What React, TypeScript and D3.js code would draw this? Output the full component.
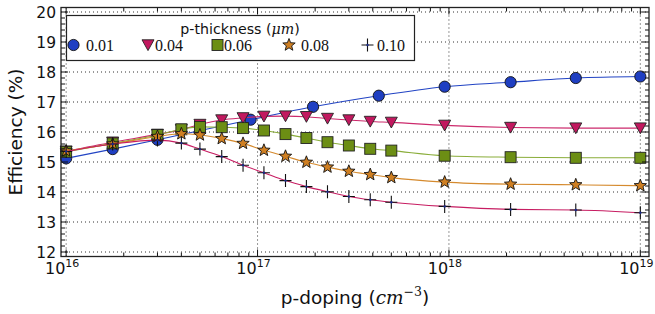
import * as d3 from 'd3';
import React, { useEffect, useRef } from 'react';

// p-doping values (cm^-3) where the thicker layers were simulated
const dopingFine = [1e16, 1.75e16, 3e16, 4e16, 5e16, 6.5e16, 8.4e16, 1.08e17, 1.4e17, 1.8e17,
    2.32e17, 3e17, 3.88e17, 5e17, 9.5e17, 2.1e18, 4.6e18, 1e19];
// the 0.01 um layer used a coarser grid
const dopingCoarse = [1e16, 1.75e16, 3e16, 9.2e16, 1.95e17, 4.3e17, 9.5e17, 2.1e18, 4.6e18, 1e19];

// efficiency (%) for each p-thickness
const eff001 = [15.12, 15.43, 15.74, 16.41, 16.84, 17.21, 17.51, 17.66, 17.80, 17.85];
const eff004 = [15.36, 15.66, 15.92, 16.08, 16.25, 16.40, 16.47, 16.52, 16.53, 16.51, 16.45, 16.40,
    16.35, 16.32, 16.22, 16.15, 16.13, 16.13];
const eff006 = [15.34, 15.62, 15.90, 16.09, 16.17, 16.16, 16.13, 16.05, 15.93, 15.80, 15.66, 15.55,
    15.44, 15.38, 15.21, 15.16, 15.14, 15.14];
const eff008 = [15.37, 15.60, 15.85, 15.94, 15.90, 15.78, 15.62, 15.39, 15.19, 14.99, 14.83, 14.69,
    14.58, 14.48, 14.33, 14.26, 14.24, 14.21];
const eff010 = [15.35, 15.60, 15.73, 15.63, 15.43, 15.18, 14.89, 14.64, 14.38, 14.18, 14.01, 13.85,
    13.74, 13.66, 13.52, 13.42, 13.40, 13.31];

const thicknessLabels = ['0.01', '0.04', '0.06', '0.08', '0.10'];
const yTicks = [12, 13, 14, 15, 16, 17, 18, 19, 20];
const xTicks = [1e16, 1e17, 1e18, 1e19];
const xTickExp = ['16', '17', '18', '19'];

const series = [
    { x: dopingCoarse, y: eff001, marker: 'circle', fill: '#1f3fc2', line: '#2244c4' },
    { x: dopingFine, y: eff004, marker: 'tri', fill: '#c2185f', line: '#cc2a6c' },
    { x: dopingFine, y: eff006, marker: 'square', fill: '#6c8e14', line: '#8aad3a' },
    { x: dopingFine, y: eff008, marker: 'star', fill: '#cf7f22', line: '#d58a2e' },
    { x: dopingFine, y: eff010, marker: 'plus', fill: '#111', line: '#c71d62' },
];

function starPath(ro: number, ri: number) {
    const pts: string[] = [];
    for (let i = 0; i < 10; i++) {
        const r = i % 2 === 0 ? ro : ri;
        const a = -Math.PI / 2 + (i * Math.PI) / 5;
        pts.push(`${(r * Math.cos(a)).toFixed(2)},${(r * Math.sin(a)).toFixed(2)}`);
    }
    return `M${pts.join('L')}Z`;
}

function drawMarker(g: any, kind: string, fill: string) {
    if (kind === 'circle') {
        g.append('circle').attr('r', 5.6).attr('fill', fill).attr('stroke', '#111').attr('stroke-width', 0.9);
    } else if (kind === 'tri') {
        g.append('path').attr('d', 'M-6,-5.2L6,-5.2L0,5.6Z').attr('fill', fill)
            .attr('stroke', '#222').attr('stroke-width', 0.9);
    } else if (kind === 'square') {
        g.append('rect').attr('x', -5.5).attr('y', -5.5).attr('width', 11).attr('height', 11)
            .attr('fill', fill).attr('stroke', '#222').attr('stroke-width', 0.9);
    } else if (kind === 'star') {
        g.append('path').attr('d', starPath(6.5, 2.8)).attr('fill', fill)
            .attr('stroke', '#111').attr('stroke-width', 0.9);
    } else {
        g.append('path').attr('d', 'M-6,0H6M0,-6.5V6.5').attr('stroke', '#111').attr('stroke-width', 1.1);
        g.append('circle').attr('r', 1.2).attr('fill', '#1a2a8a');
    }
}

function App() {
    const ref = useRef<SVGSVGElement>(null);

    useEffect(() => {
        const width = 655;
        const height = 314;
        const left = 61, right = 649, top = 7.5, bottom = 256.5;

        const svg = d3.select(ref.current);
        svg.selectAll('*').remove();
        svg.attr('width', width).attr('height', height).style('background', 'white');

        const x = d3.scaleLog().domain([9.4e15, 1.11e19]).range([left, right]);
        const y = d3.scaleLinear().domain([11.85, 20.15]).range([bottom, top]);

        // gridlines
        const grid = svg.append('g').attr('stroke', '#333').attr('stroke-width', 1)
            .attr('stroke-dasharray', '1,3');
        xTicks.forEach((t) => {
            grid.append('line').attr('x1', x(t)).attr('x2', x(t)).attr('y1', top).attr('y2', bottom);
        });
        yTicks.forEach((t) => {
            grid.append('line').attr('x1', left).attr('x2', right).attr('y1', y(t)).attr('y2', y(t));
        });

        // curves and markers
        const line = d3.line<number>().curve(d3.curveMonotoneX);
        series.forEach((s) => {
            const pts = s.x.map((xv, i) => [x(xv), y(s.y[i])] as [number, number]);
            svg.append('path').attr('d', (line as any)(pts)).attr('fill', 'none')
                .attr('stroke', s.line).attr('stroke-width', 1.1);
            pts.forEach((p) => {
                const g = svg.append('g').attr('transform', `translate(${p[0]},${p[1]})`);
                drawMarker(g, s.marker, s.fill);
            });
        });

        // ticks (inward, all four sides)
        const ticks = svg.append('g').attr('stroke', '#111').attr('stroke-width', 1);
        const minorX: number[] = [];
        [16, 17, 18].forEach((d) => {
            for (let k = 2; k <= 9; k++) minorX.push(k * 10 ** d);
        });
        xTicks.forEach((t) => {
            ticks.append('line').attr('x1', x(t)).attr('x2', x(t)).attr('y1', bottom).attr('y2', bottom - 7);
            ticks.append('line').attr('x1', x(t)).attr('x2', x(t)).attr('y1', top).attr('y2', top + 7);
        });
        minorX.forEach((t) => {
            ticks.append('line').attr('x1', x(t)).attr('x2', x(t)).attr('y1', bottom).attr('y2', bottom - 4);
            ticks.append('line').attr('x1', x(t)).attr('x2', x(t)).attr('y1', top).attr('y2', top + 4);
        });
        d3.range(11.8, 20.2, 0.2).forEach((t) => {
            const v = Math.round(t * 10) / 10;
            if (v < 11.85 || v > 20.15) return;
            const major = Math.abs(v - Math.round(v)) < 1e-6;
            const len = major ? 7 : 4;
            ticks.append('line').attr('x1', left).attr('x2', left + len).attr('y1', y(v)).attr('y2', y(v));
            ticks.append('line').attr('x1', right).attr('x2', right - len).attr('y1', y(v)).attr('y2', y(v));
        });

        // frame
        svg.append('rect').attr('x', left).attr('y', top).attr('width', right - left)
            .attr('height', bottom - top).attr('fill', 'none').attr('stroke', '#222').attr('stroke-width', 1.3);

        // tick labels
        const font = 'DejaVu Sans';
        yTicks.forEach((t) => {
            svg.append('text').attr('x', left - 5).attr('y', y(t) + 5.5).attr('text-anchor', 'end')
                .attr('font-family', font).attr('font-size', 15.5).attr('fill', '#111').text(String(t));
        });
        xTicks.forEach((t, i) => {
            const tx = svg.append('text').attr('x', x(t) - 4).attr('y', 274).attr('text-anchor', 'middle')
                .attr('font-family', font).attr('font-size', 16).attr('fill', '#111');
            tx.append('tspan').text('10');
            tx.append('tspan').attr('dy', -7).attr('font-size', 11).text(xTickExp[i]);
        });

        // axis labels
        svg.append('text').attr('transform', `translate(22,${(top + bottom) / 2}) rotate(-90)`)
            .attr('text-anchor', 'middle').attr('font-family', font).attr('font-size', 18.5)
            .attr('fill', '#111').text('Efficiency (%)');
        const xl = svg.append('text').attr('x', (left + right) / 2).attr('y', 304).attr('text-anchor', 'middle')
            .attr('font-family', font).attr('font-size', 18.5).attr('fill', '#111');
        xl.append('tspan').text('p-doping (');
        xl.append('tspan').attr('font-family', 'DejaVu Serif').attr('font-style', 'italic').text('cm');
        xl.append('tspan').attr('dy', -8).attr('font-size', 12.5).attr('font-family', 'DejaVu Serif').text('−3');
        xl.append('tspan').attr('dy', 8).text(')');

        // legend
        const lg = svg.append('g');
        lg.append('rect').attr('x', 66.5).attr('y', 15.5).attr('width', 348).attr('height', 45)
            .attr('fill', 'white').attr('stroke', '#222').attr('stroke-width', 1.2);
        const lt = lg.append('text').attr('x', 240).attr('y', 33.5).attr('text-anchor', 'middle')
            .attr('font-family', font).attr('font-size', 14.2).attr('fill', '#111');
        lt.append('tspan').text('p-thickness (');
        lt.append('tspan').attr('font-family', 'DejaVu Serif').attr('font-style', 'italic').text('μm');
        lt.append('tspan').text(')');
        const colX = [73.5, 148, 217.5, 289, 367.5];
        const textX = [86, 155, 224, 301, 377];
        series.forEach((s, i) => {
            const g = lg.append('g').attr('transform', `translate(${colX[i]},45)`);
            drawMarker(g, s.marker, s.fill);
            lg.append('text').attr('x', textX[i]).attr('y', 50.5).attr('font-family', 'Liberation Serif')
                .attr('font-size', 16).attr('fill', '#111').text(thicknessLabels[i]);
        });
    }, []);

    return (
        <div style={{ position: 'absolute', left: 0, top: 0 }}>
            <svg ref={ref} />
        </div>
    );
}

export default App;
